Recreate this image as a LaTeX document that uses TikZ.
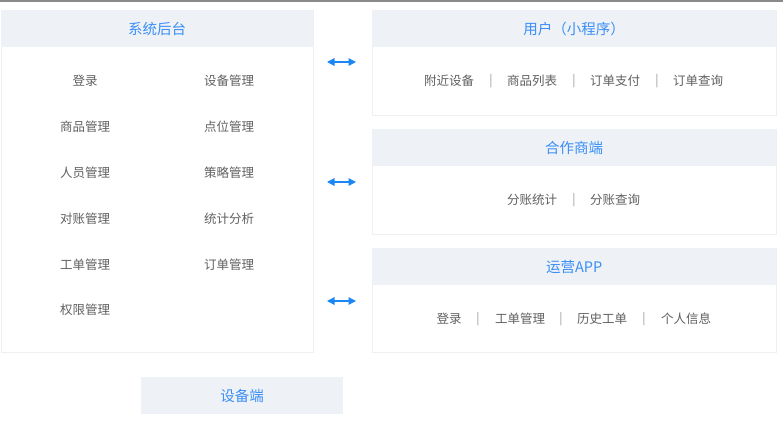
\documentclass[tikz,border=0pt]{standalone}
\usepackage{fontspec}
\setmainfont{Noto Sans CJK SC}
\usetikzlibrary{arrows.meta}
\definecolor{hdr}{HTML}{EEF2F7}
\definecolor{ttl}{HTML}{3A8EF6}
\definecolor{txt}{HTML}{606060}
\definecolor{sep}{HTML}{999999}
\definecolor{bd}{HTML}{EDF0F3}
\definecolor{arr}{HTML}{1A87F5}
\definecolor{topl}{HTML}{8A8A8A}
\tikzset{
  panel/.style={draw=bd, line width=0.8pt, fill=white, anchor=north west, inner sep=0pt},
  head/.style={fill=hdr, anchor=north west, inner sep=0pt, text=ttl, font=\fontsize{14.5}{16}\selectfont, minimum height=37pt, text depth=0.5pt},
  item/.style={text=txt, inner sep=0pt, yshift=-1pt, font=\fontsize{12.5}{14}\selectfont},
  bar/.style={text=sep, inner sep=0pt, yshift=-1pt, font=\fontsize{12}{14}\selectfont},
  dbl/.style={draw=arr, line width=1.4pt, {Triangle[length=7.5pt,width=7.5pt]}-{Triangle[length=7.5pt,width=7.5pt]}},
}
\begin{document}
\begin{tikzpicture}[x=1pt,y=-1pt]
\useasboundingbox (0,0) rectangle (783,420);
\fill[white] (0,0) rectangle (783,420);
\coordinate (tl) at (0,0.8);
\coordinate (tr) at (783,0.8);
\draw[topl, line width=1.6pt] (tl) -- (tr);

% left panel
\node[panel, minimum width=312pt, minimum height=342pt] (sys) at (1,10) {};
\node[head, minimum width=312pt] (sysh) at (1,10) {系统后台};
\node[item] (s1) at (85,80) {登录};
\node[item] (s2) at (229,80) {设备管理};
\node[item] (s3) at (85,126) {商品管理};
\node[item] (s4) at (229,126) {点位管理};
\node[item] (s5) at (85,172) {人员管理};
\node[item] (s6) at (229,172) {策略管理};
\node[item] (s7) at (85,218) {对账管理};
\node[item] (s8) at (229,218) {统计分析};
\node[item] (s9) at (85,264) {工单管理};
\node[item] (s10) at (229,264) {订单管理};
\node[item] (s11) at (85,309) {权限管理};

% user panel
\node[panel, minimum width=404pt, minimum height=105pt] (usr) at (372,10) {};
\node[head, minimum width=404pt] (usrh) at (372,10) {用户（小程序）};
\node[item] (u1) at (449,80) {附近设备};
\node[bar] (ub1) at (491,80) {|};
\node[item] (u2) at (532,80) {商品列表};
\node[bar] (ub2) at (574,80) {|};
\node[item] (u3) at (615,80) {订单支付};
\node[bar] (ub3) at (657,80) {|};
\node[item] (u4) at (698,80) {订单查询};

% partner panel
\node[panel, minimum width=404pt, minimum height=105pt] (par) at (372,129) {};
\node[head, minimum width=404pt] (parh) at (372,129) {合作商端};
\node[item] (p1) at (532,199) {分账统计};
\node[bar] (pb1) at (574,199) {|};
\node[item] (p2) at (615,199) {分账查询};

% ops panel
\node[panel, minimum width=404pt, minimum height=104pt] (ops) at (372,248) {};
\node[head, minimum width=404pt] (opsh) at (372,248) {运营APP};
\node[item] (o1) at (449,318) {登录};
\node[bar] (ob1) at (478,318) {|};
\node[item] (o2) at (520,318) {工单管理};
\node[bar] (ob2) at (561,318) {|};
\node[item] (o3) at (602,318) {历史工单};
\node[bar] (ob3) at (644,318) {|};
\node[item] (o4) at (686,318) {个人信息};

% device
\node[head, minimum width=202pt, minimum height=37pt] (dev) at (141,377) {设备端};

% arrows
\coordinate (a1l) at (327,62);
\coordinate (a1r) at (356,62);
\coordinate (a2l) at (327,182);
\coordinate (a2r) at (356,182);
\coordinate (a3l) at (327,301);
\coordinate (a3r) at (356,301);
\draw[dbl] (a1l) -- (a1r);
\draw[dbl] (a2l) -- (a2r);
\draw[dbl] (a3l) -- (a3r);
\end{tikzpicture}
\end{document}
